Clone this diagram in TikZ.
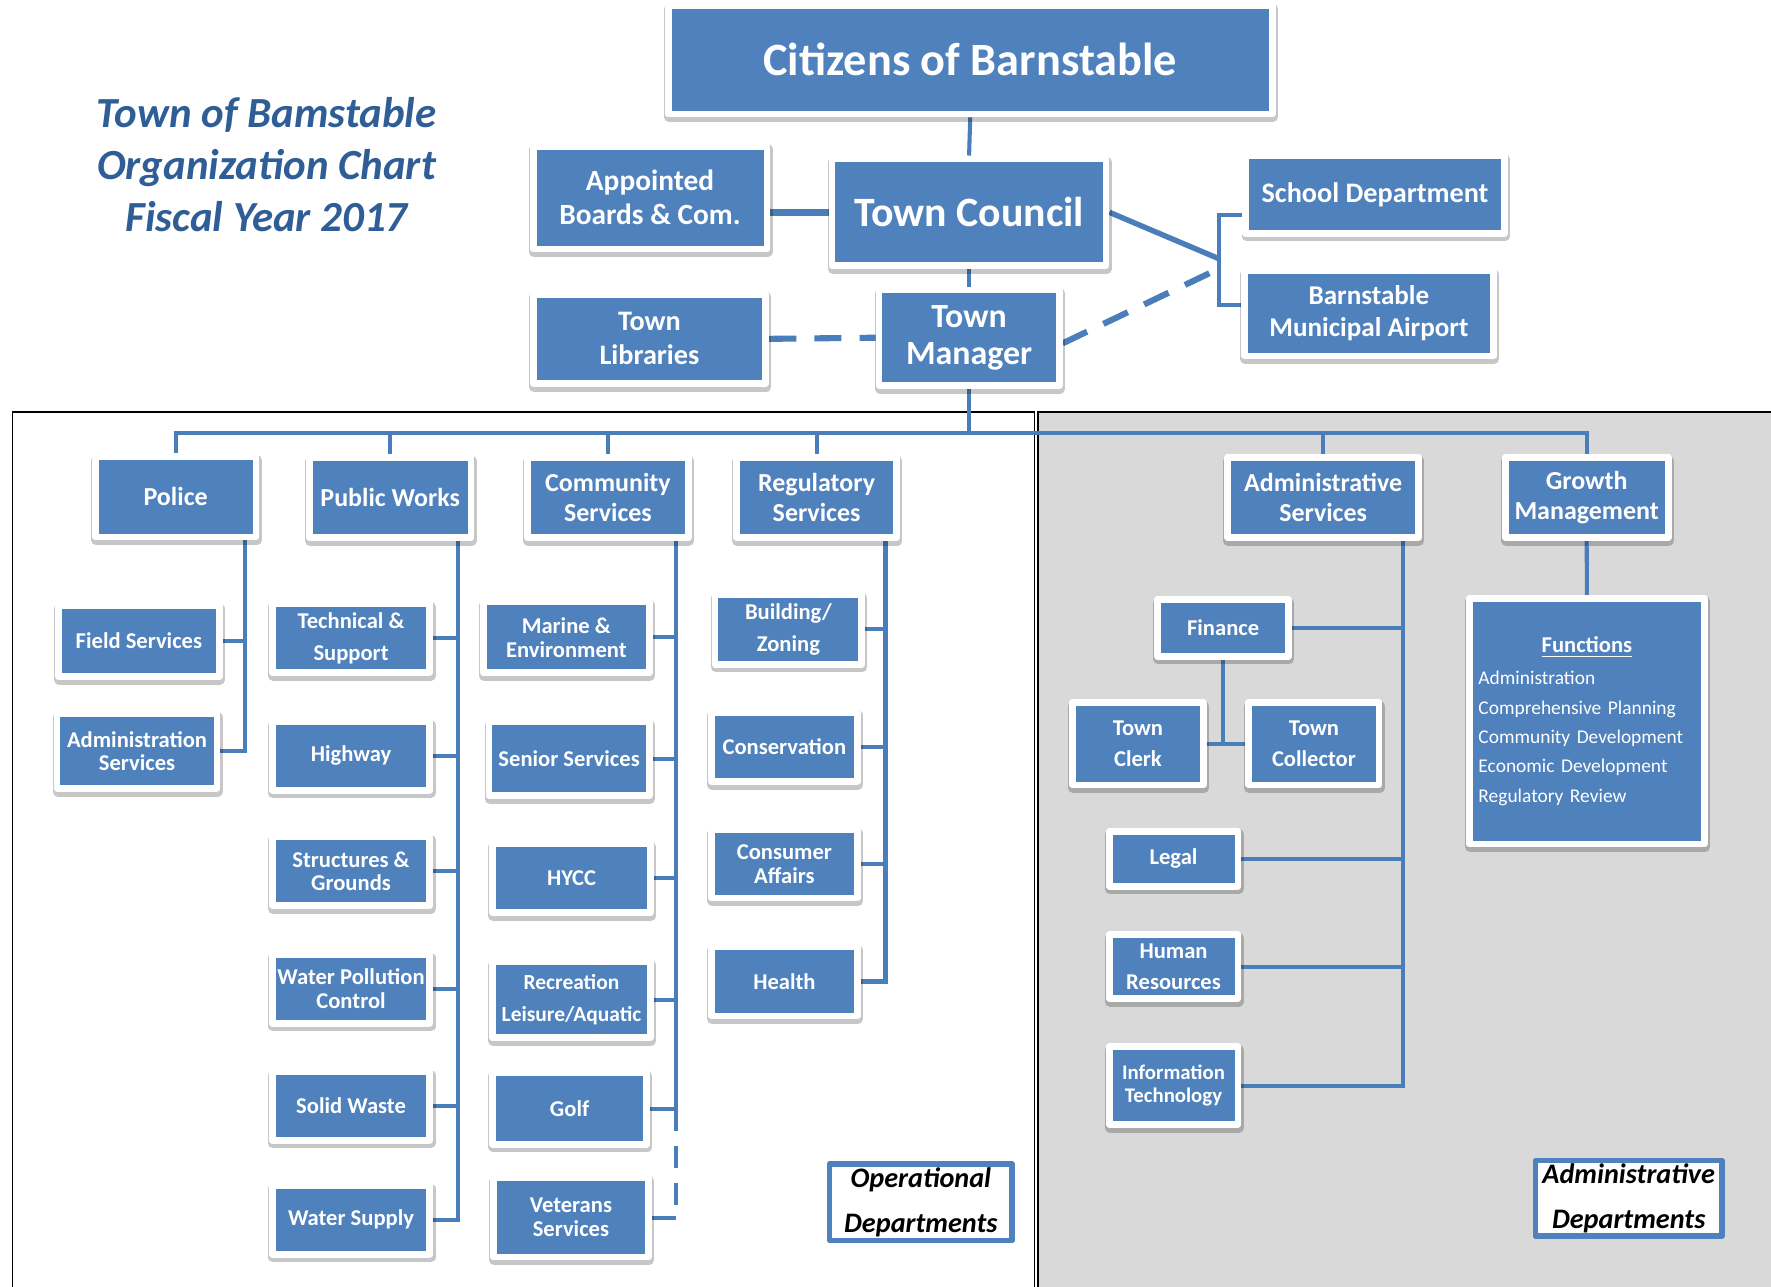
\documentclass[tikz,border=0pt]{standalone}
\usepackage[x11names,rgb]{xcolor}
\usepackage{fontspec}
\setmainfont{Carlito}
\usepackage{tikz}
\usetikzlibrary{shadows}
\usetikzlibrary{backgrounds}
\usetikzlibrary{calc}
\definecolor{boxblue}{RGB}{79,129,189}
\definecolor{linkblue}{RGB}{74,126,187}
\definecolor{titleblue}{RGB}{47,93,149}
\definecolor{panelgray}{RGB}{217,217,217}

\begin{document}
\begin{tikzpicture}[x=0.5pt,y=-0.5pt,line join=round]
\tikzstyle{unit} = [rectangle,fill=boxblue,draw=white,line width=3pt,text=white,align=center,inner sep=1pt,
  drop shadow={shadow xshift=0.3pt,shadow yshift=-1.4pt,fill=black,draw=black,line width=4.4pt,opacity=0.22}]
\tikzstyle{headbox} = [unit,font=\bfseries\fontsize{12.5}{15}\selectfont]
\tikzstyle{deptbox} = [unit,font=\bfseries\fontsize{11.5}{13}\selectfont,minimum height=35.5pt]
\tikzstyle{subbox} = [unit,font=\bfseries\fontsize{10}{10.5}\selectfont]
\tikzstyle{link} = [draw=linkblue,line width=1.8pt]
\tikzstyle{dashlink} = [draw=linkblue,line width=2.7pt,dash pattern=on 12pt off 8pt]
\tikzstyle{keybox} = [rectangle,draw=boxblue,line width=2.5pt,fill=white,align=center,inner sep=1pt,
  font=\bfseries\itshape\fontsize{12.5}{20}\selectfont]
\useasboundingbox (0,0) rectangle (1568,1139);
\begin{scope}[on background layer]
\fill[panelgray] (919,365) rectangle (1580,1150);
\draw[line width=0.7pt] (11,1150) |- (916,365) -- (916,1150);
\draw[line width=0.7pt] (919,1150) |- (1580,365);
\end{scope}
\node[text=titleblue,align=center,font=\bfseries\itshape\fontsize{19}{23}\selectfont] (title) at (236,146)
  {Town of Bamstable\\Organization Chart\\Fiscal Year 2017};
% top of the chart
\node[unit,font=\bfseries\fontsize{20.5}{24}\selectfont,minimum width=267.4pt,minimum height=48pt] (citizens) at (859,53) {Citizens of Barnstable};
\node[unit,font=\bfseries\fontsize{18.5}{22}\selectfont,minimum width=121.3pt,minimum height=47.3pt] (council) at (858,188) {Town Council};
\node[headbox,font=\bfseries\fontsize{13}{15}\selectfont,minimum width=103.5pt,minimum height=45.5pt] (appointed) at (575.5,175) {Appointed\\Boards \& Com.};
\node[headbox,minimum width=103pt,minimum height=39.5pt] (libraries) at (575,300) {Town\\Libraries};
\node[unit,font=\bfseries\fontsize{15}{16.5}\selectfont,minimum width=79.8pt,minimum height=42.2pt] (manager) at (858,299) {Town\\Manager};
\node[headbox,minimum width=114.4pt,minimum height=34.4pt] (school) at (1217.4,172.2) {School Department};
\node[headbox,font=\bfseries\fontsize{12}{14}\selectfont,minimum width=110pt,minimum height=37.7pt] (airport) at (1212,277.5) {Barnstable\\Municipal Airport};
% departments
\node[deptbox,minimum width=71.1pt] (police) at (155.5,440) {Police};
\node[deptbox,minimum width=71.5pt] (pw) at (345.5,440.5) {Public Works};
\node[deptbox,minimum width=71.3pt] (community) at (538.3,440.5) {Community\\Services};
\node[deptbox,minimum width=71pt] (regulatory) at (723,440.5) {Regulatory\\Services};
\node[deptbox,minimum width=84.5pt] (adminsvc) at (1171.5,440.5) {Administrative\\Services};
\node[deptbox,minimum width=72.1pt] (growth) at (1404.8,440.5) {Growth\\Management};
% police
\node[subbox,minimum width=71pt,minimum height=31.5pt] (fieldsvc) at (123,567.5) {Field Services};
\node[subbox,minimum width=70.8pt,minimum height=33pt] (policeadm) at (121.3,665) {Administration\\Services};
% public works
\node[subbox,minimum width=69.8pt,minimum height=30.5pt] (techsup) at (310.8,565) {Technical \&\\[3.5pt]Support};
\node[subbox,minimum width=69.8pt,minimum height=30.3pt] (highway) at (310.8,669.3) {Highway};
\node[subbox,minimum width=69.8pt,minimum height=30.5pt] (structures) at (310.8,771.5) {Structures \&\\Grounds};
\node[subbox,minimum width=69.8pt,minimum height=30.5pt] (waterpol) at (310.8,875.5) {Water Pollution\\Control};
\node[subbox,minimum width=69.8pt,minimum height=30.3pt] (solidwaste) at (310.8,979.3) {Solid Waste};
\node[subbox,minimum width=69.8pt,minimum height=30.5pt] (watersupply) at (310.8,1080) {Water Supply};
% community services
\node[subbox,minimum width=73.4pt,minimum height=31.3pt] (marine) at (501.4,564.3) {Marine \&\\Environment};
\node[subbox,minimum width=70.9pt,minimum height=32.8pt] (senior) at (503.9,671.8) {Senior Services};
\node[subbox,minimum width=70pt,minimum height=30.5pt] (hycc) at (506,777.5) {HYCC};
\node[subbox,font=\bfseries\fontsize{9.5}{10.5}\selectfont,minimum width=70pt,minimum height=33.6pt] (recreation) at (506,885) {Recreation\\[3.5pt]Leisure/Aquatic};
\node[subbox,minimum width=68.3pt,minimum height=31.5pt] (golf) at (504.3,981.5) {Golf};
\node[subbox,minimum width=68.5pt,minimum height=35pt] (veterans) at (505.5,1078) {Veterans\\Services};
% regulatory services
\node[subbox,minimum width=65pt,minimum height=30.7pt] (building) at (698,557.3) {Building/\\[4pt]Zoning};
\node[subbox,minimum width=64.5pt,minimum height=30.7pt] (conservation) at (694.5,661.3) {Conservation};
\node[subbox,minimum width=64.5pt,minimum height=30.2pt] (consumer) at (694.5,764.9) {Consumer\\Affairs};
\node[subbox,minimum width=64.5pt,minimum height=30.5pt] (health) at (694.5,869) {Health};
% administrative services
\node[subbox,minimum width=57.9pt,minimum height=25pt] (finance) at (1082.9,556) {Finance};
\node[subbox,minimum width=58pt,minimum height=36.5pt] (clerk) at (1007.5,658.5) {Town\\[3.5pt]Clerk};
\node[subbox,minimum width=57.7pt,minimum height=36.5pt] (collector) at (1163.3,658.5) {Town\\[3.5pt]Collector};
\node[subbox,minimum width=57pt,minimum height=24.3pt] (legal) at (1039,760.3) {Legal};
\node[subbox,minimum width=57pt,minimum height=28.2pt] (hr) at (1039,855.8) {Human\\[3.5pt]Resources};
\node[subbox,font=\bfseries\fontsize{9.2}{10}\selectfont,minimum width=57pt,minimum height=34.4pt] (it) at (1039,961.1) {Information\\Technology};
% growth management
\node[unit,minimum width=104pt,minimum height=108.8pt,text width=96pt,align=left,font=\fontsize{8.6}{13}\selectfont] (functions) at (1405,638.5)
  {\makebox[\linewidth]{\bfseries\fontsize{10}{13}\selectfont\underline{Functions}}\\[1.2pt]Administration\\Comprehensive Planning\\Community Development\\Economic Development\\Regulatory Review};
\node[keybox,minimum width=80.8pt,minimum height=33.9pt] (opdept) at (815.3,1064.4) {Operational\\Departments};
\node[keybox,minimum width=82.5pt,minimum height=33.5pt] (admdept) at (1442,1061) {Administrative\\Departments};
\begin{scope}[on background layer]
\draw[link] (citizens.south) -- (council.north);
\draw[link] (council.south) -- (manager.north);
\draw[link,line width=3pt] (appointed.east |- council.west) -- (council.west);
\draw[dashlink] (libraries.east) -- (manager.west);
\coordinate (fork) at (1079,229);
\draw[link,line width=2.4pt] (council.east) -- (fork);
\draw[dashlink] ($(manager.east)+(0,5)$) -- ($(fork)+(0,9)$);
\draw[link] ($(school.west)+(0,18)$) -| (fork) |- ($(airport.west)+(0,-7.5)$);
% bus to the departments
\coordinate (hub) at (858,383);
\draw[link] (manager.south) -- (hub);
\draw[link] (police.north) |- (hub);
\draw[link] (pw.north) |- (hub);
\draw[link] (community.north) |- (hub);
\draw[link] (regulatory.north) |- (hub);
\draw[link] (adminsvc.north) |- (hub);
\draw[link] (growth.north) |- (hub);
\coordinate (police-t) at ($(police.south east)+(-13,0)$);
\coordinate (pw-t) at ($(pw.south east)+(-14.5,0)$);
\coordinate (community-t) at ($(community.south east)+(-14,0)$);
\coordinate (regulatory-t) at ($(regulatory.south east)+(-13,0)$);
\coordinate (adminsvc-t) at ($(adminsvc.south east)+(-16.5,0)$);
\draw[link] (police-t) |- (fieldsvc.east);
\draw[link] (police-t) |- (policeadm.east);
\draw[link] (pw-t) |- (techsup.east);
\draw[link] (pw-t) |- (highway.east);
\draw[link] (pw-t) |- (structures.east);
\draw[link] (pw-t) |- (waterpol.east);
\draw[link] (pw-t) |- (solidwaste.east);
\draw[link] (pw-t) |- (watersupply.east);
\draw[link] (community-t) |- (marine.east);
\draw[link] (community-t) |- (senior.east);
\draw[link] (community-t) |- (hycc.east);
\draw[link] (community-t) |- (recreation.east);
\draw[link] (community-t) |- (golf.east);
\draw[link,dash pattern=on 9.8pt off 6.6pt] (community-t |- golf.east) -- (community-t |- veterans.east);
\draw[link] (community-t |- veterans.east) -- (veterans.east);
\draw[link] (regulatory-t) |- (building.east);
\draw[link] (regulatory-t) |- (conservation.east);
\draw[link] (regulatory-t) |- (consumer.east);
\draw[link] (regulatory-t) |- (health.east);
\draw[link] (adminsvc-t) |- (finance.east);
\draw[link] (adminsvc-t) |- (legal.east);
\draw[link] (adminsvc-t) |- (hr.east);
\draw[link] (adminsvc-t) |- (it.east);
\draw[link] (finance.south) -- (finance.south |- clerk.east);
\draw[link] (clerk.east) -- (collector.west);
\draw[link] (growth.south) -- (functions.north);
\end{scope}
\end{tikzpicture}
\end{document}
